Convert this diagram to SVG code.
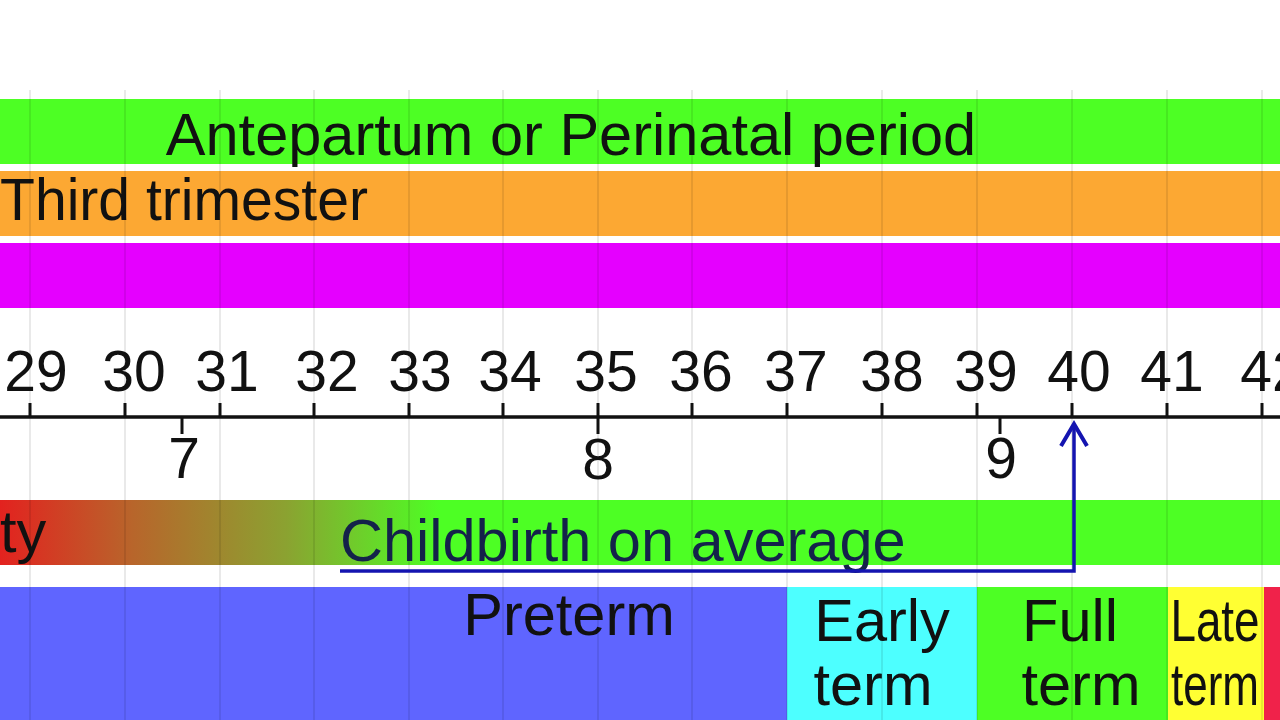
<svg xmlns="http://www.w3.org/2000/svg" width="1280" height="720" viewBox="0 0 1280 720">
<defs>
<style>
.t{font-family:"Liberation Sans",Arial,sans-serif;font-size:59.5px;fill:#111;}
.num{font-family:"Liberation Sans",Arial,sans-serif;font-size:57px;fill:#111;text-anchor:middle;}
.c{text-anchor:middle;}
.grid{stroke:#000;stroke-opacity:0.11;stroke-width:1.6;}
.tick{stroke:#111;stroke-width:3;}
</style>
<linearGradient id="viab" gradientUnits="userSpaceOnUse" x1="0" y1="0" x2="440" y2="0">
<stop offset="0" stop-color="#e3221f"/>
<stop offset="0.3" stop-color="#b8652b"/>
<stop offset="0.65" stop-color="#8ba231"/>
<stop offset="1" stop-color="#4dff24"/>
</linearGradient>
</defs>
<rect width="1280" height="720" fill="#fff"/>

<g id="antepartum">
<rect x="0" y="99" width="1280" height="65" fill="#4dff24"/>
<text class="t c" x="571" y="155">Antepartum or Perinatal period</text>
</g>
<g id="third-trimester">
<rect x="0" y="171" width="1280" height="65" fill="#fca833"/>
<text class="t" x="0" y="220" textLength="368" lengthAdjust="spacingAndGlyphs">Third trimester</text>
</g>
<g id="magenta-bar">
<rect x="0" y="243" width="1280" height="65" fill="#e500ff"/>
</g>

<g id="viability">
<rect x="0" y="500" width="1280" height="65" fill="url(#viab)"/>
<text class="t" x="0" y="552">ty</text>
<text class="t" x="340" y="561" style="fill:#14224a">Childbirth on average</text>
</g>

<g id="preterm">
<rect x="0" y="587" width="787" height="133" fill="#5f65ff"/>
<text class="t c" x="569" y="635">Preterm</text>
</g>
<g id="early-term">
<rect x="787" y="587" width="190" height="133" fill="#4dffff"/>
<text class="t c" x="882" y="641">Early</text>
<text class="t c" x="873" y="705">term</text>
</g>
<g id="full-term">
<rect x="977" y="587" width="191" height="133" fill="#4dff24"/>
<text class="t c" x="1070" y="641">Full</text>
<text class="t c" x="1081" y="705">term</text>
</g>
<g id="late-term">
<rect x="1168" y="587" width="96" height="133" fill="#ffff33"/>
<text class="t c" transform="translate(1215,641) scale(0.77,1)" x="0" y="0">Late</text>
<text class="t c" transform="translate(1215,705) scale(0.74,1)" x="0" y="0">term</text>
</g>
<g id="post-term">
<rect x="1264" y="587" width="16" height="133" fill="#f0224a"/>
</g>

<g id="grid">
<line class="grid" x1="30" y1="90" x2="30" y2="720"/>
<line class="grid" x1="125" y1="90" x2="125" y2="720"/>
<line class="grid" x1="220" y1="90" x2="220" y2="720"/>
<line class="grid" x1="314" y1="90" x2="314" y2="720"/>
<line class="grid" x1="409" y1="90" x2="409" y2="720"/>
<line class="grid" x1="503" y1="90" x2="503" y2="720"/>
<line class="grid" x1="598" y1="90" x2="598" y2="720"/>
<line class="grid" x1="692" y1="90" x2="692" y2="720"/>
<line class="grid" x1="787" y1="90" x2="787" y2="720"/>
<line class="grid" x1="882" y1="90" x2="882" y2="720"/>
<line class="grid" x1="977" y1="90" x2="977" y2="720"/>
<line class="grid" x1="1072" y1="90" x2="1072" y2="720"/>
<line class="grid" x1="1167" y1="90" x2="1167" y2="720"/>
<line class="grid" x1="1262" y1="90" x2="1262" y2="720"/>
</g>

<g id="axis">
<line x1="0" y1="417" x2="1280" y2="417" stroke="#111" stroke-width="3.5"/>
<g class="tick">
<line x1="30" y1="403" x2="30" y2="417"/>
<line x1="125" y1="403" x2="125" y2="417"/>
<line x1="220" y1="403" x2="220" y2="417"/>
<line x1="314" y1="403" x2="314" y2="417"/>
<line x1="409" y1="403" x2="409" y2="417"/>
<line x1="503" y1="403" x2="503" y2="417"/>
<line x1="598" y1="403" x2="598" y2="417"/>
<line x1="692" y1="403" x2="692" y2="417"/>
<line x1="787" y1="403" x2="787" y2="417"/>
<line x1="882" y1="403" x2="882" y2="417"/>
<line x1="977" y1="403" x2="977" y2="417"/>
<line x1="1072" y1="403" x2="1072" y2="417"/>
<line x1="1167" y1="403" x2="1167" y2="417"/>
<line x1="1262" y1="403" x2="1262" y2="417"/>
<line x1="182" y1="417" x2="182" y2="434"/>
<line x1="598" y1="417" x2="598" y2="434"/>
<line x1="1000" y1="417" x2="1000" y2="434"/>
</g>
<text class="num" x="36" y="391">29</text>
<text class="num" x="134" y="391">30</text>
<text class="num" x="227" y="391">31</text>
<text class="num" x="327" y="391">32</text>
<text class="num" x="420" y="391">33</text>
<text class="num" x="510" y="391">34</text>
<text class="num" x="606" y="391">35</text>
<text class="num" x="701" y="391">36</text>
<text class="num" x="796" y="391">37</text>
<text class="num" x="892" y="391">38</text>
<text class="num" x="986" y="391">39</text>
<text class="num" x="1079" y="391">40</text>
<text class="num" x="1172" y="391">41</text>
<text class="num" x="1272" y="391">42</text>
<text class="num" x="184" y="478">7</text>
<text class="num" x="598" y="479">8</text>
<text class="num" x="1001" y="478">9</text>
</g>

<g id="connectors" fill="none" stroke="#1414b0" stroke-width="3.5">
<polyline points="340,571 1074,571 1074,424"/>
<polyline points="1061,446 1074,424 1087,446" stroke-width="4" stroke-linejoin="miter"/>
</g>
</svg>
